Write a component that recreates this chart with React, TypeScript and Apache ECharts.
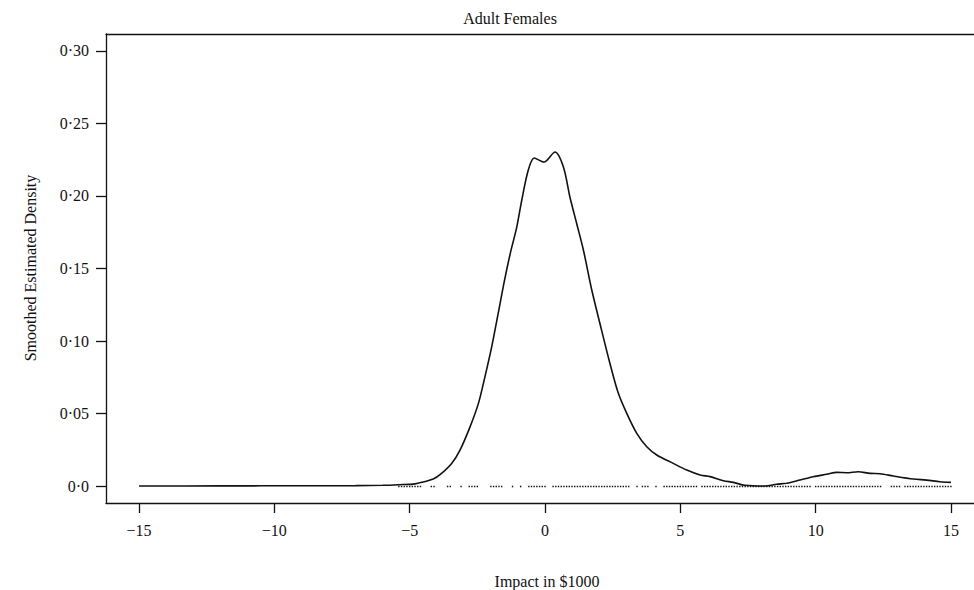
import React, { useEffect, useRef } from 'react';
import * as echarts from 'echarts';

const TITLE = 'Adult Females';
const X_NAME = 'Impact in $1000';
const Y_NAME = 'Smoothed Estimated Density';

const xTicks = [-15, -10, -5, 0, 5, 10, 15];
const xTickLabels = ['−15', '−10', '−5', '0', '5', '10', '15'];
const yTicks = [0, 0.05, 0.1, 0.15, 0.2, 0.25, 0.3];
const yTickLabels = ['0·0', '0·05', '0·10', '0·15', '0·20', '0·25', '0·30'];

// impact (in $1000) and smoothed density
const impact = [
  -15, -12, -9, -7, -6, -5.4, -4.8, -4.5, -4.13, -3.88, -3.45, -3.14, -2.77, -2.46, -2.22,
  -1.97, -1.73, -1.5, -1.27, -1.05, -0.86, -0.62, -0.4, -0.04, 0.37, 0.68, 0.92, 1.17, 1.42,
  1.73, 2.09, 2.4, 2.71, 3.02, 3.39, 3.76, 4.13, 4.74, 5.24, 5.73, 6.1, 6.59, 6.96, 7.39,
  8.13, 8.56, 8.93, 9.42, 9.91, 10.41, 10.78, 11.15, 11.57, 12.01, 12.38, 12.87, 13.61,
  14.1, 14.59, 15.0,
];
const density = [
  0, 0.0001, 0.0002, 0.0003, 0.0005, 0.0009, 0.0015, 0.0028, 0.0048, 0.0078, 0.0156, 0.0248,
  0.0408, 0.057, 0.0753, 0.096, 0.119, 0.1415, 0.1615, 0.178, 0.197, 0.2177, 0.2262, 0.2234,
  0.2303, 0.22, 0.1993, 0.181, 0.1626, 0.135, 0.1075, 0.0845, 0.0639, 0.0501, 0.0363, 0.0271,
  0.0214, 0.0156, 0.011, 0.0076, 0.0065, 0.0037, 0.0025, 0.0005, 0.0, 0.0012, 0.0019, 0.0041,
  0.0064, 0.0081, 0.0094, 0.0092, 0.0099, 0.0087, 0.0085, 0.0069, 0.0048, 0.0041, 0.003, 0.0025,
];

// rug of observations: runs of dots [from, to] along the baseline
const rugFrom = [-5.4, -4.2, -3.6, -3.1, -2.8, -2.0, -1.2, -0.9, -0.6, 0.3, 3.4, 3.6, 4.1, 4.4, 5.8, 10.0, 10.7, 11.6, 12.8, 13.3];
const rugTo = [-4.6, -4.1, -3.5, -3.1, -2.5, -1.6, -1.2, -0.9, 0.0, 3.1, 3.4, 3.8, 4.1, 5.6, 9.8, 10.6, 11.5, 12.4, 13.1, 15.0];

const FONT = '"Liberation Serif", "Times New Roman", serif';

export default function App() {
  const ref = useRef<HTMLDivElement>(null);
  useEffect(() => {
    if (!ref.current) return;
    const chart = echarts.init(ref.current, null, { renderer: 'svg' });
    const curve = impact.map((x, i) => [x, density[i]]);
    const rug = rugFrom.map((a, i) => [a, rugTo[i]]);
    const nearest = (arr: number[], v: number) => {
      let best = -1;
      let d = Infinity;
      arr.forEach((t, i) => {
        const dd = Math.abs(t - v);
        if (dd < d) { d = dd; best = i; }
      });
      return d < 1e-6 ? best : -1;
    };
    chart.setOption({
      animation: false,
      backgroundColor: '#fff',
      grid: { left: 106, right: 0, top: 34, bottom: 87, containLabel: false },
      xAxis: [
        {
          type: 'value',
          min: -16.22,
          max: 15.85,
          position: 'bottom',
          axisLine: { show: true, onZero: false, lineStyle: { color: '#111', width: 1.3 } },
          axisTick: { show: true, inside: false, length: 10, customValues: xTicks, lineStyle: { color: '#111', width: 1.3 } },
          axisLabel: {
            show: true,
            customValues: xTicks,
            margin: 19,
            fontFamily: FONT,
            fontSize: 16,
            color: '#111',
            formatter: (v: number) => {
              const i = nearest(xTicks, v);
              return i >= 0 ? xTickLabels[i] : '';
            },
          },
          splitLine: { show: false },
        },
        {
          type: 'value',
          min: -16.22,
          max: 15.85,
          position: 'top',
          axisLine: { show: true, onZero: false, lineStyle: { color: '#111', width: 1.3 } },
          axisTick: { show: false },
          axisLabel: { show: false },
          splitLine: { show: false },
        },
      ],
      yAxis: {
        type: 'value',
        min: -0.0117,
        max: 0.3117,
        axisLine: { show: true, onZero: false, lineStyle: { color: '#111', width: 1.3 } },
        axisTick: { show: true, inside: false, length: 10, customValues: yTicks, lineStyle: { color: '#111', width: 1.3 } },
        axisLabel: {
          show: true,
          customValues: yTicks,
          margin: 17,
          fontFamily: FONT,
          fontSize: 16,
          color: '#111',
          formatter: (v: number) => {
            const i = nearest(yTicks, v);
            return i >= 0 ? yTickLabels[i] : '';
          },
        },
        splitLine: { show: false },
      },
      graphic: [
        {
          type: 'text',
          x: 510,
          y: 18,
          style: { text: TITLE, font: `16px ${FONT}`, fill: '#111', textAlign: 'center', textVerticalAlign: 'middle' },
        },
        {
          type: 'text',
          x: 547,
          y: 581,
          style: { text: X_NAME, font: `16px ${FONT}`, fill: '#111', textAlign: 'center', textVerticalAlign: 'middle' },
        },
        {
          type: 'text',
          x: 30,
          y: 268,
          rotation: Math.PI / 2,
          style: { text: Y_NAME, font: `16px ${FONT}`, fill: '#111', textAlign: 'center', textVerticalAlign: 'middle' },
        },
      ],
      series: [
        {
          type: 'custom',
          xAxisIndex: 0,
          yAxisIndex: 0,
          silent: true,
          encode: { x: [0, 1] },
          data: rug,
          renderItem: (params: any, api: any) => {
            const p1 = api.coord([api.value(0), 0]);
            const p2 = api.coord([api.value(1), 0]);
            return {
              type: 'line',
              shape: { x1: p1[0] - 0.7, y1: p1[1] + 0.5, x2: p2[0] + 0.7, y2: p2[1] + 0.5 },
              style: { stroke: '#111', lineWidth: 1.6, lineDash: [1.4, 1.3] },
            };
          },
          z: 1,
        },
        {
          type: 'line',
          xAxisIndex: 0,
          yAxisIndex: 0,
          data: curve,
          showSymbol: false,
          symbol: 'none',
          smooth: 0.3,
          lineStyle: { color: '#111', width: 1.6 },
          z: 2,
        },
      ],
    });
    return () => chart.dispose();
  }, []);
  return <div ref={ref} style={{ position: 'fixed', left: 0, top: 0, width: 974, height: 590 }} />;
}
